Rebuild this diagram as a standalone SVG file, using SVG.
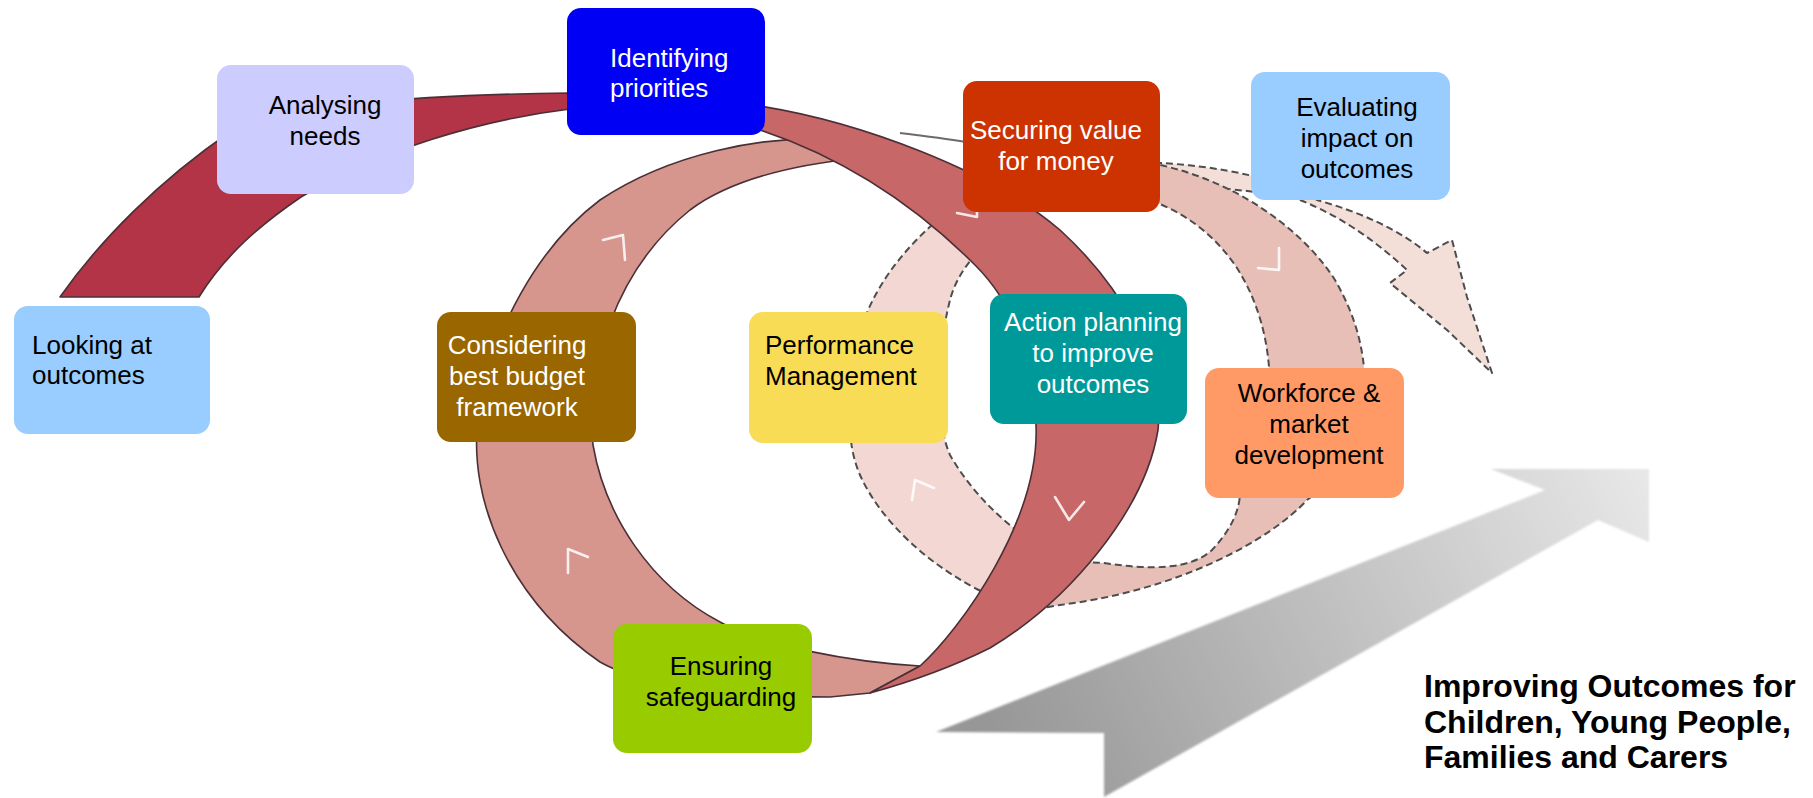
<svg xmlns="http://www.w3.org/2000/svg" width="1813" height="798" viewBox="0 0 1813 798">
  <defs>
    <linearGradient id="greyArrow" gradientUnits="userSpaceOnUse" x1="1010" y1="770" x2="1640" y2="470">
      <stop offset="0" stop-color="#979797"/>
      <stop offset="0.5" stop-color="#bfbfbf"/>
      <stop offset="1" stop-color="#e7e7e7"/>
    </linearGradient>
    <filter id="soft" x="-5%" y="-5%" width="110%" height="110%">
      <feGaussianBlur stdDeviation="1.2"/>
    </filter>
    <style>
      .lbl { font-family: "Liberation Sans", Arial, Helvetica, sans-serif; font-size: 26px; }
      .mid { text-anchor: middle; }
      .wt { fill: #ffffff; }
      .bk { fill: #000000; }
      .title { font-family: "Liberation Sans", Arial, Helvetica, sans-serif; font-size: 32px; font-weight: bold; fill: #000000; }
      .ribbon { stroke: #4a3036; stroke-width: 1.6; stroke-linejoin: round; }
      .dashed { stroke: #4d4d4d; stroke-width: 2; stroke-dasharray: 7 4; stroke-linejoin: round; }
      .tick { fill: none; stroke: #ffffff; stroke-width: 2.6; stroke-linecap: round; stroke-linejoin: round; opacity: 0.85; }
    </style>
  </defs>

  <rect width="1813" height="798" fill="#ffffff"/>

  <!-- connectors: ribbons, loops and arrows -->
  <g id="connectors">
    <!-- large grey progress arrow -->
    <polygon id="progress-arrow" fill="url(#greyArrow)" filter="url(#soft)"
      points="936,732 1104,733 1104,797 1598,520 1649,542 1649,469 1491,469 1545,490"/>

    <!-- exit arrow leaving the outer loop -->
    <path id="exit-arrow" class="dashed" fill="#f4ded8"
      d="M1100,163 L1160,163 C1220,166 1285,180 1317,200 C1360,212 1400,230 1427,253 L1452,240 L1467,297 L1492,373 L1447,330 L1390,283 L1407,270 C1380,245 1345,218 1300,200 C1260,190 1200,186 1160,186 L1100,186 Z"/>

    <!-- outer loop, pale left half -->
    <path id="loop2-left" class="dashed" fill="#f3d7d2"
      d="M950,210 C905,245 870,290 858,340 C848,400 845,440 860,475 C880,520 930,570 1000,600 L1030,540 C1000,520 970,490 950,455 C935,420 935,360 950,300 C955,280 970,255 995,238 Z"/>

    <!-- outer loop, right half -->
    <path id="loop2-right" class="dashed" fill="#e8bfb7"
      d="M985,150 C1050,155 1110,160 1160,165 C1230,180 1300,225 1335,280 C1355,315 1363,345 1365,380 C1365,440 1335,480 1307,500 C1270,540 1180,590 1060,605 L1020,612 L1040,560 L1104,563 C1150,570 1190,570 1212,550 C1235,525 1242,505 1240,480 C1245,430 1272,400 1269,367 C1266,330 1255,295 1235,265 C1215,237 1190,215 1150,200 L1100,200 C1040,195 1000,180 985,170 Z"/>
    <!-- upper rim of the outer loop, running in behind the value-for-money box -->
    <path fill="none" stroke="#3a3a3a" stroke-width="1.8" opacity="0.75" d="M900,133 C925,136 948,139 966,142"/>

    <!-- main loop, back half -->
    <path id="loop1-back" class="ribbon" fill="#d6968d"
      d="M870,142 C760,128 660,160 600,200 C540,245 490,330 478,420 C468,500 510,600 600,662 C650,690 740,697 830,697 L870,693 L920,666 C850,662 760,645 720,622 C650,585 605,515 593,445 C585,370 615,270 690,210 C730,180 790,165 860,158 Z"/>

    <!-- main loop, front half -->
    <path id="loop1-front" class="ribbon" fill="#c76767"
      d="M760,106 C860,122 990,170 1060,230 C1120,285 1165,360 1158,430 C1145,510 1070,600 990,648 C950,668 910,682 870,693 L920,666 C960,630 1040,520 1036,425 C1034,350 1010,300 975,265 C920,210 850,160 760,130 Z"/>

    <!-- opening sweep -->
    <path id="sweep" class="ribbon" fill="#b23446"
      d="M60,297 C100,240 160,180 230,132 C300,105 400,95 570,93 L570,109 C480,120 380,150 301,197 C260,225 225,255 199,297 Z"/>

    <!-- direction ticks -->
    <polyline class="tick" points="603,240 623,235 625,260"/>
    <polyline class="tick" points="588,557 568,549 568,573"/>
    <polyline class="tick" points="977,192 977,217 957,213"/>
    <polyline class="tick" points="1055,497 1069,520 1084,502"/>
    <polyline class="tick" points="934,488 915,480 912,500"/>
    <polyline class="tick" points="1279,248 1279,270 1258,268"/>
  </g>

  <!-- nodes -->
  <g id="looking-at-outcomes">
    <rect x="14" y="306" width="196" height="128" rx="14" fill="#99ccff"/>
    <text class="lbl bk" x="32" y="354">Looking at</text>
    <text class="lbl bk" x="32" y="384">outcomes</text>
  </g>

  <g id="analysing-needs">
    <rect x="217" y="65" width="197" height="129" rx="14" fill="#ccccff"/>
    <text class="lbl bk mid" x="325" y="114">Analysing</text>
    <text class="lbl bk mid" x="325" y="145">needs</text>
  </g>

  <g id="identifying-priorities">
    <rect x="567" y="8" width="198" height="127" rx="14" fill="#0000f5"/>
    <text class="lbl wt" x="610" y="67">Identifying</text>
    <text class="lbl wt" x="610" y="97">priorities</text>
  </g>

  <g id="securing-value">
    <rect x="963" y="81" width="197" height="131" rx="14" fill="#cc3300"/>
    <text class="lbl wt mid" x="1056" y="139">Securing value</text>
    <text class="lbl wt mid" x="1056" y="170">for money</text>
  </g>

  <g id="evaluating-impact">
    <rect x="1251" y="72" width="199" height="128" rx="14" fill="#99ccff"/>
    <text class="lbl bk mid" x="1357" y="116">Evaluating</text>
    <text class="lbl bk mid" x="1357" y="147">impact on</text>
    <text class="lbl bk mid" x="1357" y="178">outcomes</text>
  </g>

  <g id="considering-budget">
    <rect x="437" y="312" width="199" height="130" rx="14" fill="#996600"/>
    <text class="lbl wt mid" x="517" y="354">Considering</text>
    <text class="lbl wt mid" x="517" y="385">best budget</text>
    <text class="lbl wt mid" x="517" y="416">framework</text>
  </g>

  <g id="performance-management">
    <rect x="749" y="312" width="199" height="131" rx="14" fill="#f9dc55"/>
    <text class="lbl bk" x="765" y="354">Performance</text>
    <text class="lbl bk" x="765" y="385">Management</text>
  </g>

  <g id="action-planning">
    <rect x="990" y="294" width="197" height="130" rx="14" fill="#009999"/>
    <text class="lbl wt mid" x="1093" y="331">Action planning</text>
    <text class="lbl wt mid" x="1093" y="362">to improve</text>
    <text class="lbl wt mid" x="1093" y="393">outcomes</text>
  </g>

  <g id="workforce-market">
    <rect x="1205" y="368" width="199" height="130" rx="14" fill="#ff9966"/>
    <text class="lbl bk mid" x="1309" y="402">Workforce &amp;</text>
    <text class="lbl bk mid" x="1309" y="433">market</text>
    <text class="lbl bk mid" x="1309" y="464">development</text>
  </g>

  <g id="ensuring-safeguarding">
    <rect x="613" y="624" width="199" height="129" rx="14" fill="#99cc00"/>
    <text class="lbl bk mid" x="721" y="675">Ensuring</text>
    <text class="lbl bk mid" x="721" y="706">safeguarding</text>
  </g>

  <g id="title">
    <text class="title" x="1424" y="697">Improving Outcomes for</text>
    <text class="title" x="1424" y="733">Children, Young People,</text>
    <text class="title" x="1424" y="768">Families and Carers</text>
  </g>
</svg>
